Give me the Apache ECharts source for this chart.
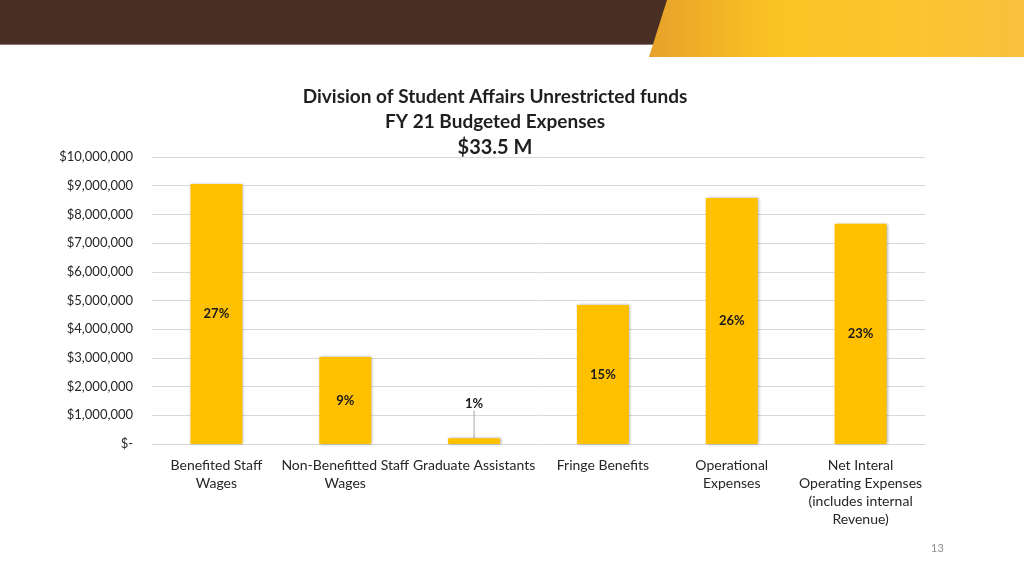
<!DOCTYPE html>
<html>
<head>
<meta charset="utf-8">
<script src="https://cdn.jsdelivr.net/npm/echarts@6/dist/echarts.min.js"></script>
<style>
  html, body { margin: 0; padding: 0; background: #fff; }
  #root { width: 1024px; height: 576px; }
</style>
</head>
<body>
<div id="root"></div>
<script>
// chart data
var categories = [
  'Benefited Staff\nWages',
  'Non-Benefitted Staff\nWages',
  'Graduate Assistants',
  'Fringe Benefits',
  'Operational\nExpenses',
  'Net Interal\nOperating Expenses\n(includes internal\nRevenue)'
];
var expenses = [9060000, 3030000, 200000, 4840000, 8570000, 7670000];
var shares = ['27%', '9%', '1%', '15%', '26%', '23%'];
var titleLines = ['Division of Student Affairs Unrestricted funds', 'FY 21 Budgeted Expenses', '$33.5 M'];

var dom = document.getElementById('root');
var myChart = echarts.init(dom, null, { renderer: 'canvas' });
var FONT = 'Lato, "Open Sans", sans-serif';

var barData = expenses.map(function (v, i) {
  var item = { value: v, label: { formatter: shares[i] } };
  // the tiny bar gets its label pulled up with a guide line
  if (i === 2) {
    item.labelLine = { show: true, lineStyle: { color: '#a6a6a6', width: 1 } };
  }
  return item;
});

var option = {
  animation: false,
  textStyle: { fontFamily: FONT },
  graphic: [
    // brown header band
    {
      type: 'rect', left: 0, top: 0, z: 0,
      shape: { width: 1024, height: 44 },
      style: { fill: '#4A2F24' }
    },
    {
      type: 'rect', left: 0, top: 44, z: 0,
      shape: { width: 668, height: 1 },
      style: { fill: '#8a7a74' }
    },
    // gold slanted block
    {
      type: 'polygon', z: 1,
      shape: { points: [[667, 0], [1024, 0], [1024, 57], [649, 57]] },
      style: {
        fill: new echarts.graphic.LinearGradient(0, 0, 1, 0, [
          { offset: 0, color: '#E7A12A' },
          { offset: 0.35, color: '#FBC423' },
          { offset: 0.7, color: '#FCC42F' },
          { offset: 1, color: '#F8C03D' }
        ])
      }
    },
    // page number
    {
      type: 'text', left: 931, top: 543,
      style: { text: '13', fill: '#8c8c8c', font: '11px ' + FONT }
    }
  ],
  title: {
    text: titleLines[0] + '\n' + titleLines[1] + '\n{big|' + titleLines[2] + '}',
    left: 490,
    top: 79,
    textAlign: 'center',
    textStyle: {
      fontFamily: FONT,
      fontSize: 19,
      fontWeight: 'bold',
      color: '#1f1f1f',
      lineHeight: 25,
      rich: {
        big: { fontFamily: FONT, fontSize: 20, fontWeight: 'bold', color: '#1f1f1f', lineHeight: 27 }
      }
    }
  },
  grid: { left: 152, right: 99, top: 157, bottom: 132 },
  xAxis: {
    type: 'category',
    data: categories,
    axisTick: { show: false },
    axisLine: { lineStyle: { color: '#d9d9d9' } },
    axisLabel: {
      interval: 0,
      color: '#262626',
      fontSize: 14,
      lineHeight: 18,
      margin: 12,
      fontFamily: FONT
    }
  },
  yAxis: {
    type: 'value',
    min: 0,
    max: 10000000,
    interval: 1000000,
    axisLine: { show: false },
    axisTick: { show: false },
    splitLine: { lineStyle: { color: '#d9d9d9' } },
    axisLabel: {
      color: '#262626',
      fontSize: 13,
      margin: 19,
      fontFamily: FONT,
      formatter: function (v) {
        return v === 0 ? '$-' : '$' + v.toLocaleString('en-US');
      }
    }
  },
  series: [
    {
      type: 'bar',
      data: barData,
      barWidth: 52,
      itemStyle: {
        color: '#FFC000',
        shadowColor: 'rgba(0,0,0,0.35)',
        shadowBlur: 3,
        shadowOffsetX: 1
      },
      label: {
        show: true,
        position: 'inside',
        color: '#1a1a1a',
        fontSize: 13,
        fontWeight: 'bold',
        fontFamily: FONT
      },
      labelLayout: function (params) {
        if (params.dataIndex === 2) {
          return { dy: -37 };
        }
      }
    }
  ]
};

myChart.setOption(option);
</script>
</body>
</html>
